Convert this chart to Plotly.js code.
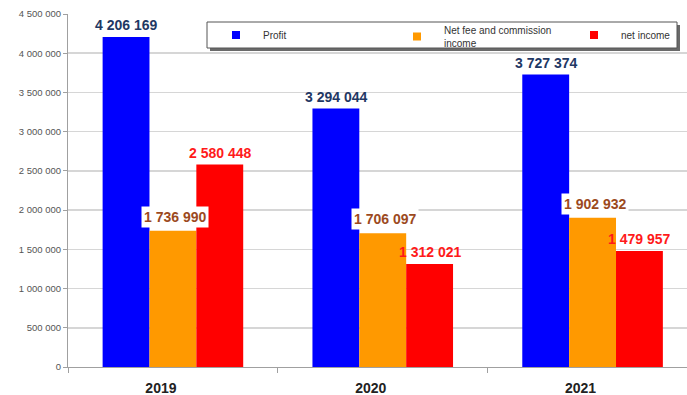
<!DOCTYPE html>
<html>
<head>
<meta charset="utf-8">
<script src="https://cdn.plot.ly/plotly-3.0.1.min.js"></script>
<style>html,body{margin:0;padding:0;background:#fff;}#chart{width:687px;height:395px;}</style>
</head>
<body>
<div id="chart"></div>
<script>
var years = ["2019", "2020", "2021"];
var profit = [4206169, 3294044, 3727374];
var netFee = [1736990, 1706097, 1902932];
var netIncome = [2580448, 1312021, 1479957];
var seriesNames = ["Profit", "Net fee and commission<br>income", "net income"];
var seriesColors = ["#0000ff", "#ff9900", "#ff0000"];
var labelColors = ["#1f3864", "#9c4a1e", "#ff1a1a"];
var yTicks = [0, 500000, 1000000, 1500000, 2000000, 2500000, 3000000, 3500000, 4000000, 4500000];

var seriesValues = [profit, netFee, netIncome];
var legendIds = ["legend", "legend2", "legend3"];
var labelShift = [1, 3, 1];
var bargap = 0.33;
var bw = (1 - bargap) / 3;

var traces = [];
seriesValues.forEach(function (vals, s) {
  traces.push({
    type: "bar", x: years, y: vals, name: seriesNames[s],
    marker: {color: seriesColors[s]}, showlegend: false, hoverinfo: "y"
  });
});
seriesValues.forEach(function (vals, s) {
  traces.push({
    type: "scatter", mode: "markers", x: [null], y: [null], name: seriesNames[s],
    marker: {color: seriesColors[s], symbol: "square", size: 8}, showlegend: true,
    legend: legendIds[s]
  });
});

function fmt(v) { return String(v).replace(/\B(?=(\d{3})+(?!\d))/g, " "); }

var annotations = [];
seriesValues.forEach(function (vals, s) {
  vals.forEach(function (v, i) {
    annotations.push({
      x: i + (s - 1) * bw, y: v, xref: "x", yref: "y",
      text: "<b>" + fmt(v) + "</b>", showarrow: false,
      yanchor: "bottom", xanchor: "center", yshift: labelShift[s],
      xshift: s === 1 ? 2 : 0,
      font: {family: "Liberation Sans, Arial, sans-serif", size: 14, color: labelColors[s]},
      bgcolor: s === 1 ? "#ffffff" : "rgba(0,0,0,0)",
      borderpad: 2
    });
  });
});

function px(xp) { return (xp - 68) / 619; }
function py(yp) { return (367 - yp) / 353; }

var legendBase = {
  orientation: "h", yanchor: "middle", xanchor: "left",
  bgcolor: "rgba(0,0,0,0)", borderwidth: 0,
  font: {size: 10, color: "#333", family: "Liberation Sans, Arial, sans-serif"},
  itemwidth: 44, valign: "middle", itemclick: false
};
var legend1 = Object.assign({}, legendBase, {x: px(209), y: py(35)});
var legend2 = Object.assign({}, legendBase, {x: px(390), y: py(36.5)});
var legend3 = Object.assign({}, legendBase, {x: px(567), y: py(35)});

var layout = {
  width: 687, height: 395,
  margin: {l: 68, r: 0, t: 14, b: 28},
  paper_bgcolor: "#ffffff", plot_bgcolor: "#ffffff",
  separators: ". ",
  barmode: "group", bargap: bargap, bargroupgap: 0,
  font: {family: "Liberation Sans, Arial, sans-serif"},
  xaxis: {
    type: "category", range: [-0.5, 2.45],
    showline: true, linecolor: "#a0a0a0", linewidth: 1,
    ticks: "outside", tickson: "boundaries", ticklen: 5, tickcolor: "#a0a0a0",
    tickfont: {size: 14, color: "#222", family: "Liberation Sans, Arial, sans-serif", weight: "bold"},
    ticklabelshift: -12, ticklabelstandoff: 8,
    showgrid: false, zeroline: false
  },
  yaxis: {
    range: [0, 4500000], tickvals: yTicks, tickformat: ",d",
    showline: true, linecolor: "#a0a0a0", linewidth: 1,
    ticks: "outside", ticklen: 4, tickcolor: "#a0a0a0",
    tickfont: {size: 9.5, color: "#555"},
    showgrid: true, gridcolor: "#d6d6d6", gridwidth: 1.5, zeroline: false
  },
  showlegend: true,
  legend: legend1,
  legend2: legend2,
  legend3: legend3,
  shapes: [
    {type: "rect", xref: "paper", yref: "paper",
     x0: px(210), x1: px(680), y0: py(51), y1: py(25),
     fillcolor: "#6a6a6a", line: {width: 0}, layer: "above"},
    {type: "rect", xref: "paper", yref: "paper",
     x0: px(207), x1: px(677), y0: py(48), y1: py(22),
     fillcolor: "#ffffff", line: {width: 1, color: "#555"}, layer: "above"}
  ],
  annotations: annotations
};

Plotly.newPlot("chart", traces, layout, {staticPlot: true, displayModeBar: false});
</script>
</body>
</html>
